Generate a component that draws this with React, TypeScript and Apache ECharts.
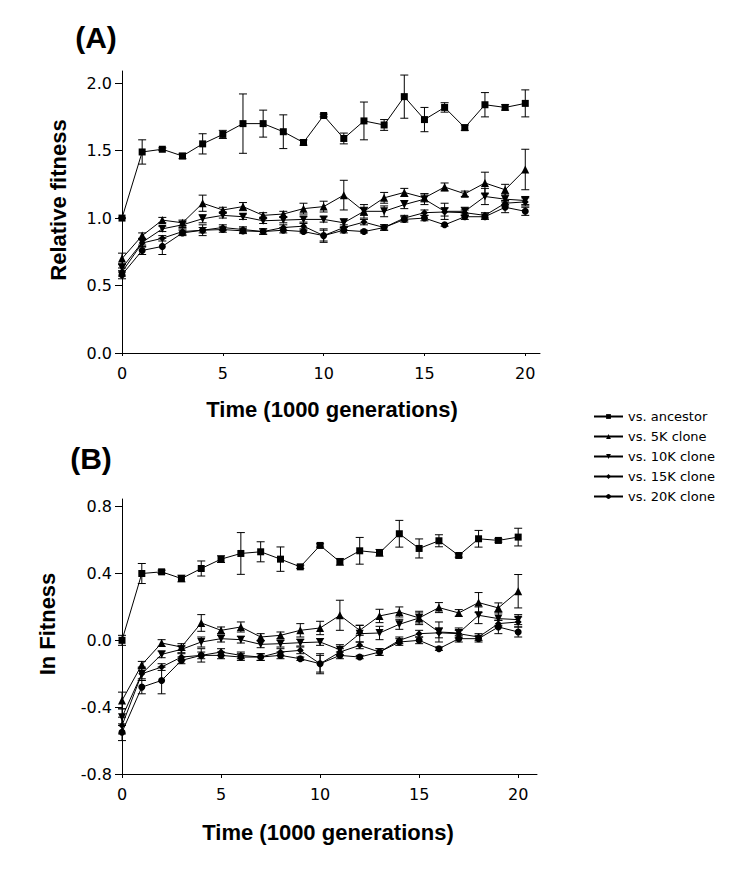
import React, { useEffect, useRef } from "react";
import * as echarts from "echarts";

const TIME = [0, 1, 2, 3, 4, 5, 6, 7, 8, 9, 10, 11, 12, 13, 14, 15, 16, 17, 18, 19, 20];
const SERIES_NAMES = ["vs. ancestor", "vs. 5K clone", "vs. 10K clone", "vs. 15K clone", "vs. 20K clone"];
const X_TICKS = [0, 5, 10, 15, 20];
const Y_TICKS_A = [0, 0.5, 1.0, 1.5, 2.0];
const Y_TICKS_B = [-0.8, -0.4, 0, 0.4, 0.8];

// Panel A: relative fitness
const ANC_A = [1.0, 1.49, 1.51, 1.46, 1.55, 1.62, 1.70, 1.70, 1.64, 1.56, 1.76, 1.59, 1.72, 1.69, 1.90, 1.73, 1.82, 1.67, 1.84, 1.82, 1.85];
const ANC_A_ERR = [0, 0.09, 0.01, 0.02, 0.075, 0.03, 0.22, 0.10, 0.125, 0.02, 0.01, 0.04, 0.14, 0.04, 0.16, 0.09, 0.035, 0.02, 0.09, 0.02, 0.10];
const K5_A = [0.70, 0.87, 0.985, 0.965, 1.11, 1.06, 1.085, 1.02, 1.03, 1.07, 1.085, 1.17, 1.05, 1.15, 1.19, 1.15, 1.23, 1.18, 1.26, 1.21, 1.36];
const K5_A_ERR = [0.04, 0.02, 0.02, 0.02, 0.06, 0.02, 0.03, 0.02, 0.02, 0.04, 0.04, 0.11, 0.03, 0.04, 0.03, 0.03, 0.03, 0.02, 0.08, 0.04, 0.15];
const K10_A = [0.63, 0.82, 0.92, 0.95, 0.995, 1.02, 1.01, 0.98, 0.985, 0.99, 0.99, 0.965, 1.05, 1.05, 1.10, 1.14, 1.05, 1.05, 1.16, 1.14, 1.13];
const K10_A_ERR = [0.03, 0.02, 0.02, 0.02, 0.03, 0.02, 0.02, 0.02, 0.02, 0.02, 0.02, 0.03, 0.05, 0.04, 0.03, 0.04, 0.06, 0.03, 0.06, 0.04, 0.03];
const K15_A = [0.60, 0.815, 0.85, 0.90, 0.91, 0.93, 0.915, 0.90, 0.93, 0.94, 0.87, 0.93, 0.97, 0.93, 1.00, 1.04, 1.045, 1.04, 1.02, 1.11, 1.12];
const K15_A_ERR = [0.03, 0.03, 0.02, 0.02, 0.02, 0.02, 0.02, 0.02, 0.02, 0.02, 0.04, 0.02, 0.02, 0.02, 0.02, 0.02, 0.03, 0.02, 0.02, 0.02, 0.03];
const K20_A = [0.58, 0.76, 0.79, 0.89, 0.91, 0.915, 0.905, 0.90, 0.91, 0.90, 0.87, 0.91, 0.90, 0.93, 0.99, 1.00, 0.95, 1.01, 1.01, 1.08, 1.05];
const K20_A_ERR = [0.03, 0.03, 0.06, 0.02, 0.04, 0.02, 0.02, 0.02, 0.02, 0.01, 0.05, 0.02, 0.01, 0.02, 0.02, 0.02, 0.01, 0.02, 0.02, 0.04, 0.03];

// Panel B: ln fitness
const ANC_B = [0.0, 0.40, 0.41, 0.37, 0.43, 0.486, 0.52, 0.53, 0.486, 0.44, 0.568, 0.47, 0.536, 0.524, 0.638, 0.55, 0.596, 0.508, 0.608, 0.598, 0.618];
const ANC_B_ERR = [0.03, 0.06, 0.01, 0.02, 0.045, 0.02, 0.125, 0.06, 0.073, 0.01, 0.01, 0.02, 0.08, 0.02, 0.08, 0.057, 0.036, 0.01, 0.05, 0.01, 0.053];
const K5_B = [-0.36, -0.146, -0.016, -0.04, 0.104, 0.06, 0.08, 0.02, 0.03, 0.06, 0.074, 0.15, 0.06, 0.146, 0.17, 0.134, 0.196, 0.164, 0.226, 0.194, 0.294];
const K5_B_ERR = [0.05, 0.02, 0.02, 0.02, 0.05, 0.02, 0.03, 0.02, 0.02, 0.04, 0.04, 0.09, 0.03, 0.04, 0.03, 0.03, 0.03, 0.02, 0.06, 0.03, 0.10];
const K10_B = [-0.46, -0.20, -0.084, -0.054, -0.01, 0.01, 0.004, -0.024, -0.02, -0.014, -0.01, -0.056, 0.04, 0.044, 0.096, 0.134, 0.05, 0.044, 0.15, 0.13, 0.124];
const K10_B_ERR = [0.05, 0.03, 0.02, 0.02, 0.03, 0.02, 0.02, 0.02, 0.02, 0.02, 0.02, 0.03, 0.05, 0.04, 0.03, 0.04, 0.06, 0.03, 0.05, 0.04, 0.03];
const K15_B = [-0.51, -0.20, -0.16, -0.10, -0.09, -0.07, -0.09, -0.10, -0.07, -0.06, -0.14, -0.07, -0.03, -0.07, 0.0, 0.04, 0.045, 0.04, 0.02, 0.10, 0.11];
const K15_B_ERR = [0.05, 0.04, 0.02, 0.02, 0.02, 0.02, 0.02, 0.02, 0.02, 0.02, 0.05, 0.02, 0.02, 0.02, 0.02, 0.02, 0.03, 0.02, 0.02, 0.02, 0.03];
const K20_B = [-0.55, -0.28, -0.24, -0.12, -0.09, -0.09, -0.10, -0.10, -0.09, -0.11, -0.14, -0.09, -0.10, -0.07, -0.01, 0.0, -0.05, 0.01, 0.01, 0.08, 0.05];
const K20_B_ERR = [0.05, 0.04, 0.08, 0.02, 0.04, 0.02, 0.02, 0.02, 0.02, 0.01, 0.06, 0.02, 0.01, 0.02, 0.02, 0.02, 0.01, 0.02, 0.02, 0.04, 0.03];

const SYMBOLS = [
  { symbol: "rect", size: 7, rotate: 0 },
  { symbol: "triangle", size: 8, rotate: 0 },
  { symbol: "triangle", size: 8, rotate: 180 },
  { symbol: "diamond", size: 7, rotate: 0 },
  { symbol: "circle", size: 7, rotate: 0 },
];

const SANS = "'Liberation Sans', Arial, sans-serif";
const TICK_FONT = "'DejaVu Sans', sans-serif";

function errorBarRender(params: any, api: any) {
  const x = api.value(0);
  const lo = api.value(1);
  const hi = api.value(2);
  const pTop = api.coord([x, hi]);
  const pBot = api.coord([x, lo]);
  const w = 4;
  const st = { stroke: "#000", lineWidth: 1 };
  return {
    type: "group",
    children: [
      { type: "line", shape: { x1: pTop[0], y1: pTop[1], x2: pBot[0], y2: pBot[1] }, style: st },
      { type: "line", shape: { x1: pTop[0] - w, y1: pTop[1], x2: pTop[0] + w, y2: pTop[1] }, style: st },
      { type: "line", shape: { x1: pBot[0] - w, y1: pBot[1], x2: pBot[0] + w, y2: pBot[1] }, style: st },
    ],
  };
}

export default function App() {
  const ref = useRef<HTMLDivElement>(null);
  useEffect(() => {
    if (!ref.current) return;
    const chart = echarts.init(ref.current, null, { renderer: "svg" });

    const panelsA = [ANC_A, K5_A, K10_A, K15_A, K20_A];
    const errsA = [ANC_A_ERR, K5_A_ERR, K10_A_ERR, K15_A_ERR, K20_A_ERR];
    const panelsB = [ANC_B, K5_B, K10_B, K15_B, K20_B];
    const errsB = [ANC_B_ERR, K5_B_ERR, K10_B_ERR, K15_B_ERR, K20_B_ERR];

    const series: any[] = [];
    const addPanel = (vals: number[][], errs: number[][], idx: number) => {
      vals.forEach((v, s) => {
        series.push({
          type: "custom",
          xAxisIndex: idx,
          yAxisIndex: idx,
          renderItem: errorBarRender,
          encode: { x: 0, y: [1, 2] },
          data: TIME.map((t, i) => [t, v[i] - errs[s][i], v[i] + errs[s][i]]),
          silent: true,
          z: 2,
        });
      });
      vals.forEach((v, s) => {
        series.push({
          type: "line",
          name: SERIES_NAMES[s],
          xAxisIndex: idx,
          yAxisIndex: idx,
          data: TIME.map((t, i) => [t, v[i]]),
          symbol: SYMBOLS[s].symbol,
          symbolSize: SYMBOLS[s].size,
          symbolRotate: SYMBOLS[s].rotate,
          showSymbol: true,
          itemStyle: { color: "#000" },
          lineStyle: { color: "#000", width: 1 },
          z: 3,
        });
      });
    };
    addPanel(panelsA, errsA, 0);
    addPanel(panelsB, errsB, 1);

    const xAxisBase = (max: number, tickLen: number) => ({
      type: "value",
      min: 0,
      max,
      splitLine: { show: false },
      axisLine: { show: true, onZero: false, lineStyle: { color: "#000", width: 1 } },
      axisTick: { show: true, length: tickLen, customValues: X_TICKS, lineStyle: { color: "#000" } },
      axisLabel: {
        customValues: X_TICKS,
        color: "#000",
        fontFamily: TICK_FONT,
        fontSize: 16,
        margin: 12,
      },
    });
    const yAxisBase = (min: number, max: number, ticks: number[]) => ({
      type: "value",
      min,
      max,
      splitLine: { show: false },
      axisLine: { show: true, onZero: false, lineStyle: { color: "#000", width: 1 } },
      axisTick: { show: true, length: 7, customValues: ticks, lineStyle: { color: "#000" } },
      axisLabel: {
        customValues: ticks,
        color: "#000",
        fontFamily: TICK_FONT,
        fontSize: 16,
        margin: 10,
        formatter: (v: number) => v.toFixed(1),
      },
    });

    const titleText = (text: string, x: number, y: number, size: number, rotate = 0) => ({
      type: "text",
      x,
      y,
      rotation: rotate,
      style: {
        text,
        fill: "#000",
        font: `bold ${size}px ${SANS}`,
        align: "center",
        verticalAlign: "middle",
      },
    });

    chart.setOption({
      animation: false,
      backgroundColor: "#fff",
      grid: [
        { left: 122, top: 71, width: 418, height: 282 },
        { left: 122, top: 499, width: 415, height: 275 },
      ],
      xAxis: [
        { ...xAxisBase(20.73, 3), gridIndex: 0 },
        { ...xAxisBase(20.95, 4), gridIndex: 1 },
      ],
      yAxis: [
        { ...yAxisBase(0, 2.09, Y_TICKS_A), gridIndex: 0 },
        { ...yAxisBase(-0.8, 0.846, Y_TICKS_B), gridIndex: 1 },
      ],
      legend: {
        data: SERIES_NAMES,
        orient: "vertical",
        left: 593,
        top: 410,
        padding: 0,
        itemWidth: 29,
        itemHeight: 6,
        itemGap: 7,
        selectedMode: false,
        textStyle: { color: "#000", fontFamily: TICK_FONT, fontSize: 13 },
      },
      graphic: [
        titleText("(A)", 96, 37, 30),
        titleText("(B)", 91, 458, 30),
        titleText("Time (1000 generations)", 332, 409, 22),
        titleText("Time (1000 generations)", 328, 832, 22),
        titleText("Relative fitness", 58, 200, 22, Math.PI / 2),
        titleText("In Fitness", 47, 624, 22, Math.PI / 2),
      ],
      series,
    });
    return () => chart.dispose();
  }, []);
  return (
    <div
      ref={ref}
      style={{ position: "absolute", left: 0, top: 0, width: 743, height: 878, background: "#fff" }}
    />
  );
}
